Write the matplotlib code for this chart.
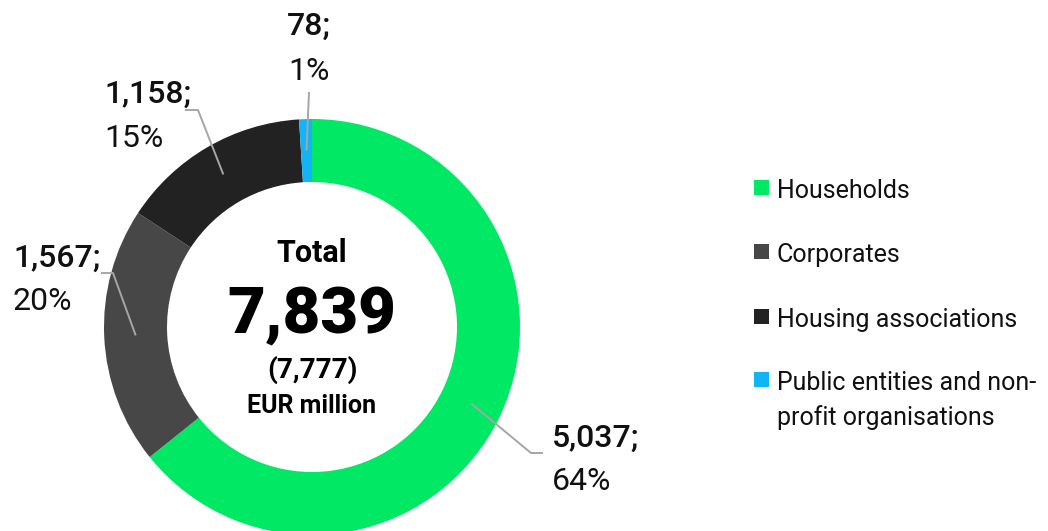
import matplotlib
matplotlib.use("Agg")
import matplotlib.pyplot as plt
from matplotlib.patches import Rectangle
import numpy as np

categories = ["Households", "Corporates", "Housing associations",
              "Public entities and non-\nprofit organisations"]
values = [5037, 1567, 1158, 78]
percents = ["64%", "20%", "15%", "1%"]
value_labels = ["5,037;", "1,567;", "1,158;", "78;"]
colors = ["#00E864", "#474747", "#222222", "#12B4F5"]
total_label = "7,839"
prev_total_label = "(7,777)"

W, H = 1048, 531
plt.rcParams['font.family'] = ['Roboto', 'DejaVu Sans']

fig = plt.figure(figsize=(W / 100, H / 100), dpi=100)
ax = fig.add_axes([0, 0, 1, 1])

def Y(y):
    return H - y

cx, cy, R, ring = 312, Y(327), 208, 63
wedges, _ = ax.pie(values, colors=colors, startangle=90, counterclock=False,
                   center=(cx, cy), radius=R,
                   wedgeprops=dict(width=ring, linewidth=0))
ax.set_xlim(0, W)
ax.set_ylim(0, H)
ax.set_aspect('equal')
ax.axis('off')

txt = "#111111"
lc = "#A6A6A6"

# label layout: (elbow points in pixel coords, text x, ha, baseline y first line, baseline second line)
layout = [
    ([(531, 453), (543, 453)], 552, 'left', 447, 490),
    ([(113, 273), (101, 273)], 13, 'left', 267, 310),
    ([(198, 110), (185, 110)], 104, 'left', 103, 147),
    ([(309, 92)], 309, 'center', 35, 80),
]
rmid = R - ring / 2
for w, vl, pc, (pts, tx, ha, b1, b2) in zip(wedges, value_labels, percents, layout):
    ang = np.deg2rad((w.theta1 + w.theta2) / 2)
    sx, sy = cx + rmid * np.cos(ang), cy + rmid * np.sin(ang)
    xs = [sx] + [p[0] for p in pts]
    ys = [sy] + [Y(p[1]) for p in pts]
    ax.plot(xs, ys, color=lc, lw=1.4, solid_capstyle='butt')
    ax.text(tx, Y(b1), vl, ha=ha, va='baseline', fontsize=23, fontweight='medium', color=txt)
    ax.text(tx, Y(b2), pc, ha=ha, va='baseline', fontsize=23, color=txt)

ax.text(cx, Y(262), "Total", ha='center', va='baseline', fontsize=22, fontweight='bold', color='black')
ax.text(cx, Y(333), total_label, ha='center', va='baseline', fontsize=47, fontweight='heavy', color='black')
ax.text(cx, Y(378), prev_total_label, ha='center', va='baseline', fontsize=20, fontweight='bold', color='black')
ax.text(cx, Y(413), "EUR million", ha='center', va='baseline', fontsize=18, fontweight='bold', color='black')

# legend (manual, first-line aligned squares)
leg_x, sq, leg_baselines, line_gap = 754, 15, [198, 262, 327, 390], 35
for cat, col, b in zip(categories, colors, leg_baselines):
    ax.add_patch(Rectangle((leg_x, Y(b - 3)), sq, sq, facecolor=col, edgecolor='none'))
    for i, line in enumerate(cat.split("\n")):
        ax.text(leg_x + 23, Y(b + i * line_gap), line, ha='left', va='baseline',
                fontsize=18, color=txt)

fig.savefig("out.png", dpi=100)
